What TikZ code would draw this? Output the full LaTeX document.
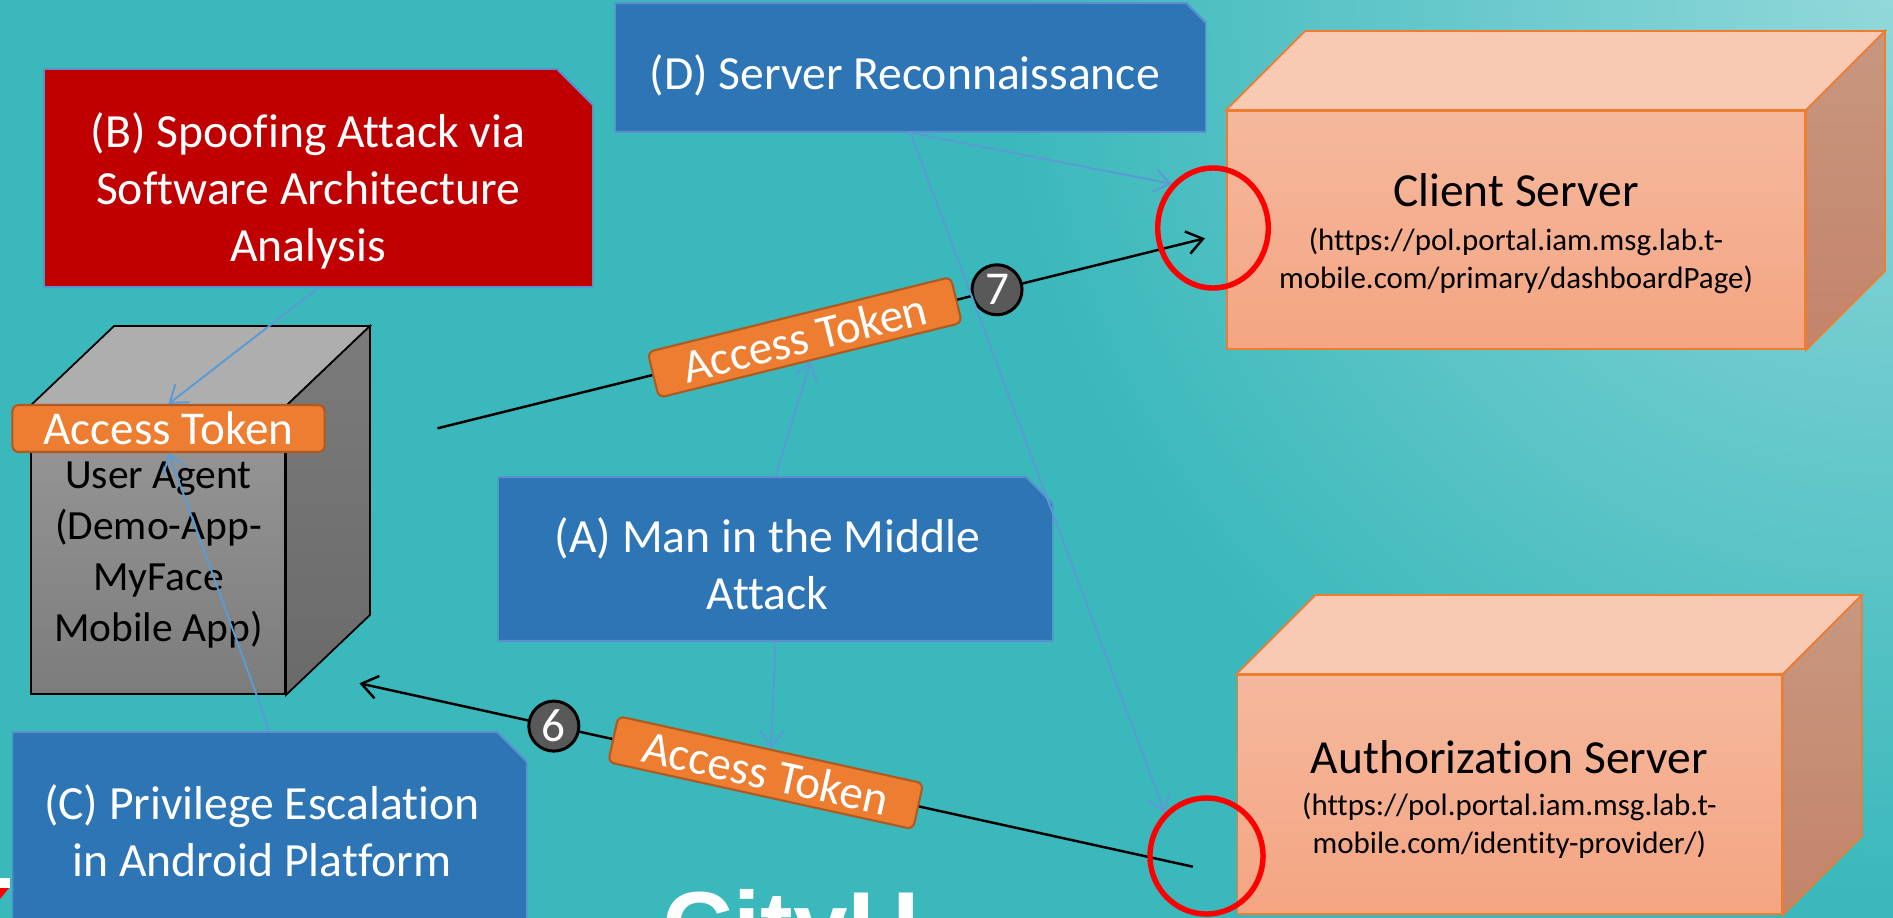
\documentclass[tikz,border=0pt]{standalone}
\usepackage{fontspec}
\setmainfont{Carlito}[Ligatures=NoCommon]
\newfontfamily\logofont{Liberation Sans}
\usetikzlibrary{arrows.meta,shapes.geometric}

\definecolor{bgteal}{HTML}{3AB8BB}
\definecolor{bglight}{HTML}{92D8DA}
\definecolor{attackred}{HTML}{C00000}
\definecolor{attackblue}{HTML}{2E75B6}
\definecolor{boxline}{HTML}{5B8FD0}
\definecolor{linkblue}{HTML}{5B9BD5}
\definecolor{tokenfill}{HTML}{ED7D31}
\definecolor{tokenline}{HTML}{AE5A21}
\definecolor{dotgray}{HTML}{595959}
\definecolor{peachtop}{HTML}{F8CAB3}
\definecolor{peachfrontA}{HTML}{F5B89D}
\definecolor{peachfrontB}{HTML}{F4A582}
\definecolor{peachsideA}{HTML}{C8977F}
\definecolor{peachsideB}{HTML}{C3846A}
\definecolor{peachline}{HTML}{ED7D31}
\definecolor{graytop}{HTML}{AEAEAE}
\definecolor{grayfrontA}{HTML}{989898}
\definecolor{grayfrontB}{HTML}{7C7C7C}
\definecolor{graysideA}{HTML}{7B7B7B}
\definecolor{graysideB}{HTML}{6A6A6A}

\tikzset{
  snipbox/.style n args={2}{rectangle, inner sep=0pt, path picture={
      \path[fill=#1, draw=boxline, line width=0.6pt]
        (path picture bounding box.south west)
        -- (path picture bounding box.north west)
        -- ([xshift=-#2]path picture bounding box.north east)
        -- ([yshift=-#2]path picture bounding box.north east)
        -- (path picture bounding box.south east) -- cycle;}},
  boxtext/.style={text=white, align=center, inner sep=0pt,
      font={\fontsize{13.55pt}{16.2pt}\selectfont}},
  uatext/.style={text=black, align=center, inner sep=0pt,
      font={\fontsize{11.8pt}{14.5pt}\selectfont}},
  srvtitle/.style={text=black, inner sep=0pt, anchor=base,
      font={\fontsize{13.5pt}{16.2pt}\selectfont}},
  srvurl/.style={text=black, align=center, inner sep=0pt,
      font={\fontsize{8.8pt}{10.7pt}\selectfont}},
  grayfront/.style={rectangle, inner sep=0pt, draw=black, line width=0.5pt,
      top color=grayfrontA, bottom color=grayfrontB},
  peachfront/.style={rectangle, inner sep=0pt, draw=peachline, line width=0.5pt,
      top color=peachfrontA, bottom color=peachfrontB},
  token/.style={rectangle, rounded corners=1.8pt, fill=tokenfill, draw=tokenline,
      line width=0.6pt, minimum width=3.12cm, minimum height=0.47cm, inner sep=0pt,
      text=white, font={\fontsize{13.4pt}{16pt}\selectfont}},
  numdot/.style={circle, fill=dotgray, draw=black, line width=0.85pt,
      minimum size=0.5cm, inner sep=0pt, text=white,
      font={\fontsize{13.4pt}{16pt}\selectfont}},
  ring/.style={ellipse, draw=red, line width=1.55pt, inner sep=0pt},
  link/.style={draw=linkblue, line width=0.55pt,
      -{Straight Barb[length=4.5pt,width=6.5pt]}},
  flow/.style={draw=black, line width=0.7pt,
      -{Straight Barb[length=4.5pt,width=6.5pt]}},
}

\begin{document}
\begin{tikzpicture}[x=0.01cm, y=-0.01cm]
\useasboundingbox (0,0) rectangle (1893,918);
\clip (0,0) rectangle (1893,918);

% backdrop: teal with a soft light glow from the upper right corner
\fill[bgteal] (0,0) rectangle (1893,918);
\shade[inner color=bglight, outer color=bgteal] (1893,0) circle (9cm);

% corner of the logo strip
\fill[white] (0,878) rectangle (10,888);
\fill[red] (0,888) -- (9,888) -- (0,899) -- cycle;

% attack boxes
\node[snipbox={attackred}{0.36cm}, minimum width=5.49cm, minimum height=2.18cm] (B) at (318.5,178) {};
\node[boxtext] (B-text) at (308,190.6) {(B) Spoofing Attack via\\Software Architecture\\Analysis};

\node[snipbox={attackblue}{0.2cm}, minimum width=5.91cm, minimum height=1.29cm] (D) at (910.5,67.5) {};
\node[boxtext] (D-text) at (904.7,75.5) {(D) Server Reconnaissance};

\node[snipbox={attackblue}{0.27cm}, minimum width=5.55cm, minimum height=1.64cm] (A) at (775.5,559) {};
\node[boxtext] (A-text) at (767.5,564) {(A) Man in the Middle\\Attack};

\node[snipbox={attackblue}{0.3cm}, minimum width=5.145cm, minimum height=2.28cm] (C) at (269.75,846) {};
\node[boxtext] (C-text) at (262,830.9) {(C) Privilege Escalation\\in Android Platform};

% user agent cube
\node[grayfront, minimum width=2.54cm, minimum height=2.87cm] (ua) at (158,550.5) {};
\path[fill=graytop, draw=black, line width=0.5pt]
  (ua.north west) -- ([shift={(84,-80)}]ua.north west)
  -- ([shift={(84,-80)}]ua.north east) -- (ua.north east) -- cycle;
\path[top color=graysideA, bottom color=graysideB, draw=black, line width=0.5pt]
  (ua.north east) -- ([shift={(84,-80)}]ua.north east)
  -- ([shift={(84,-80)}]ua.south east) -- (ua.south east) -- cycle;
\node[uatext] (ua-text) at (158.5,555.3) {User Agent\\(Demo-App-\\MyFace\\Mobile App)};

% client server cube
\node[peachfront, minimum width=5.78cm, minimum height=2.38cm] (cs) at (1516,230) {};
\path[fill=peachtop, draw=peachline, line width=0.5pt]
  (cs.north west) -- ([shift={(79,-79)}]cs.north west)
  -- ([shift={(79,-79)}]cs.north east) -- (cs.north east) -- cycle;
\path[top color=peachsideA, bottom color=peachsideB, draw=peachline, line width=0.5pt]
  (cs.north east) -- ([shift={(79,-79)}]cs.north east)
  -- ([shift={(79,-79)}]cs.south east) -- (cs.south east) -- cycle;
\node[srvtitle] (cs-title) at (1516,206.7) {Client Server};
\node[srvurl] (cs-url) at (1516,261) {(https://pol.portal.iam.msg.lab.t-\\mobile.com/primary/dashboardPage)};

% authorization server cube
\node[peachfront, minimum width=5.44cm, minimum height=2.39cm] (as) at (1509.7,794.5) {};
\path[fill=peachtop, draw=peachline, line width=0.5pt]
  (as.north west) -- ([shift={(79,-79)}]as.north west)
  -- ([shift={(79,-79)}]as.north east) -- (as.north east) -- cycle;
\path[top color=peachsideA, bottom color=peachsideB, draw=peachline, line width=0.5pt]
  (as.north east) -- ([shift={(79,-79)}]as.north east)
  -- ([shift={(79,-79)}]as.south east) -- (as.south east) -- cycle;
\node[srvtitle] (as-title) at (1509.4,773.3) {Authorization Server};
\node[srvurl] (as-url) at (1509.4,825.8) {(https://pol.portal.iam.msg.lab.t-\\mobile.com/identity-provider/)};

% token flows
\coordinate (ua-out) at (437.5,428.3);
\coordinate (cs-in) at (1205,238.3);
\draw[flow] (ua-out) -- node[token, sloped, pos=0.4785] (T7) {Access Token}
  node[numdot, pos=0.729] (N7) {7} (cs-in);

\coordinate (as-out) at (1192.8,866.7);
\coordinate (ua-in) at (359.4,683.3);
\draw[flow] (as-out) -- node[token, sloped, pos=0.5125] (T6) {Access Token}
  node[numdot, pos=0.7667] (N6) {6} (ua-in);

\node[token] (TL) at (168.5,428.5) {Access Token};

% highlighted endpoints
\node[ring, minimum width=1.105cm, minimum height=1.2cm] (ring-cs) at (1213,228) {};
\node[ring, minimum width=1.13cm, minimum height=1.16cm] (ring-as) at (1206.5,856) {};

% attack links
\draw[link] (B.south) -- (TL.north);
\draw[link] (C.north) -- (TL.south);
\draw[link] (A.north) -- (T7.south);
\draw[link] (A.south) -- (T6.north);
\draw[link] (D.south) -- (ring-cs.133);
\draw[link] (D.south) -- (ring-as.134);

% logo lettering along the lower edge
\node[text=white, inner sep=0pt, anchor=base west,
  font={\logofont\bfseries\fontsize{27.9pt}{30pt}\selectfont}] (cityu) at (662,960) {CityU};
\end{tikzpicture}
\end{document}
